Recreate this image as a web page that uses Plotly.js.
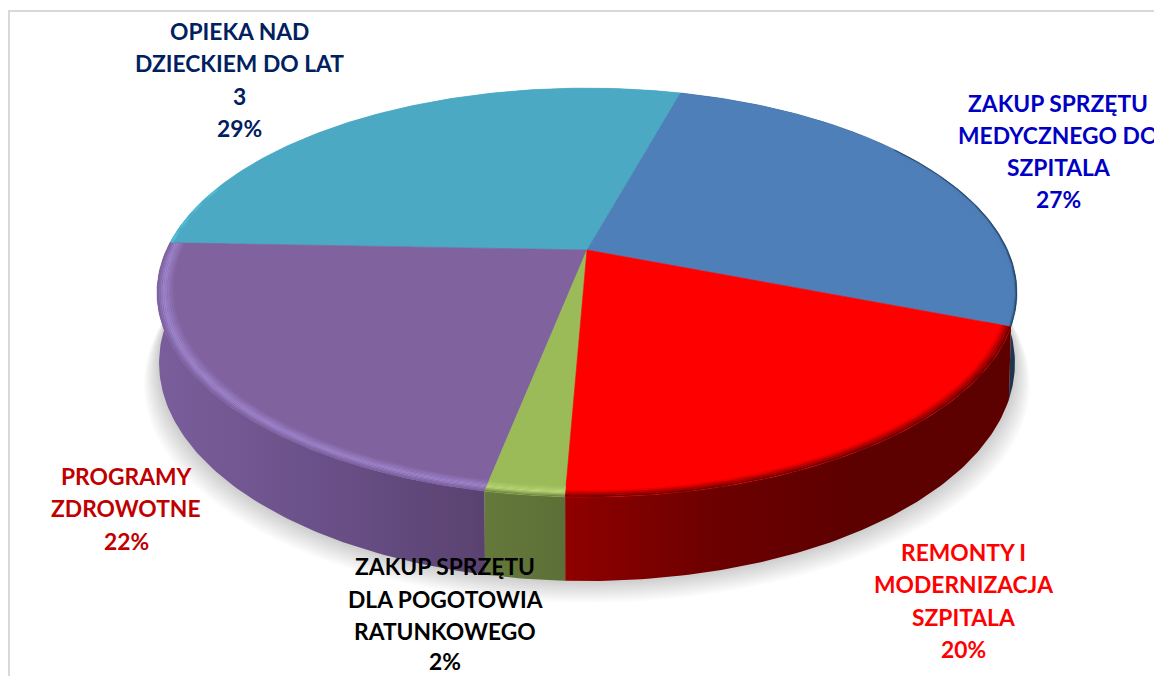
<!DOCTYPE html>
<html>
<head>
<meta charset="utf-8">
<script src="https://cdn.plot.ly/plotly-3.0.1.min.js"></script>
<style>html,body{margin:0;padding:0;background:#fff;overflow:hidden}#chart{width:1154px;height:676px}</style>
</head>
<body>
<div id="chart"></div>
<script>
// ---- data (clockwise from the blue slice) ----
const categories = ["ZAKUP SPRZĘTU MEDYCZNEGO DO SZPITALA", "REMONTY I MODERNIZACJA SZPITALA", "ZAKUP SPRZĘTU DLA POGOTOWIA RATUNKOWEGO", "PROGRAMY ZDROWOTNE", "OPIEKA NAD DZIECKIEM DO LAT 3"];
const values = [26.6, 19.75, 2.45, 22.49, 28.71];
const labelLines = [
  ["ZAKUP SPRZĘTU", "MEDYCZNEGO DO", "SZPITALA", "27%"],
  ["REMONTY I", "MODERNIZACJA", "SZPITALA", "20%"],
  ["ZAKUP SPRZĘTU", "DLA POGOTOWIA", "RATUNKOWEGO", "2%"],
  ["PROGRAMY", "ZDROWOTNE", "22%"],
  ["OPIEKA NAD", "DZIECKIEM DO LAT", "3", "29%"]
];
const labelColors = ["#0000C4", "#FF0000", "#000000", "#C00000", "#002060"];
const labelX = [1058, 963, 445, 126, 239];
const labelY = [[103,135,167,199],[552,584,617,649],[566,599,631,661],[476,508,541],[31,63,96,128]];
const topColors = ["#4E7FB8", "#FF0000", "#9BBB59", "#80629F", "#4BA9C3"];
const wallGradients = [
  ["#1E3550", "#1E3550"],
  ["#900000", "#6C0000", "#5C0000", "#5C0000"],
  ["#65793C", "#5C6F36"],
  ["#7A5E9C", "#6A5088", "#5A4270"],
  ["#4BA9C3", "#4BA9C3"]
];
const rimPeak = ["#4E7FB8", "#FF0000", "#BBD877", "#9F86CE", "#58C6E2"];
const rimEdge = ["#1A2E46", "#600000", "#66793C", "#7A5E9C", "#4FB4CE"];
const rimStart = [0.985, 0.945, 0.965, 0.962, 0.99];
const rimRange = [[55, 113], null, null, null, [271, 290]];

// ---- projection of the tilted pie ----
const startAngle = 15.5, cx = 587, tilt = 0.208;
const topG = {a: 420.6, ay: 250, b: 195.6};
const baseG = {a: 418.6, ay: 317.6, b: 208.6};
function proj(g, deg, r) {
  const t = deg * Math.PI / 180, s = Math.sin(t) * r, c = -Math.cos(t) * r; // c: front positive
  const w = 1 - tilt * c;
  return [cx + g.a * s / w, g.ay + g.b * c / w];
}
function arc(g, a0, a1, r) {
  const n = Math.max(2, Math.ceil(Math.abs(a1 - a0) / 0.75)), pts = [];
  for (let i = 0; i <= n; i++) pts.push(proj(g, a0 + (a1 - a0) * i / n, r));
  return pts;
}
function hex(c){return [1,3,5].map(i=>parseInt(c.substr(i,2),16));}
function mix(a,b,t){const x=hex(a),y=hex(b);return 'rgb('+x.map((v,i)=>Math.round(v+(y[i]-v)*t)).join(',')+')';}

let cum = startAngle;
const spans = values.map(v => { const s = [cum, cum + v * 3.6]; cum = s[1]; return s; });

function poly(pts, style) {
  return Object.assign({type:'scatter', mode:'lines', x:pts.map(p=>p[0]), y:pts.map(p=>p[1]),
    fill:'toself', hoverinfo:'skip', showlegend:false, line:{width:0}}, style);
}
const traces = [];

// soft shadow
const shadowSteps = 12;
const fullCircle = arc(baseG, 0, 360, 1);
for (let i = shadowSteps; i >= 1; i--) {
  const e = i * 1.8;
  const pts = fullCircle.map(p => [cx + (p[0]-cx) * (1 + e*0.7/428), p[1] + e]);
  traces.push(poly(pts, {fillcolor:'rgba(0,0,0,0.016)'}));
}

// walls, back to front
[4, 0, 3, 2, 1].forEach(i => {
  const [a0, a1] = spans[i];
  const pts = arc(topG, a0, a1, 1).concat(arc(baseG, a1, a0, 1));
  const stops = wallGradients[i];
  const scale = stops.map((c, k) => [k / (stops.length - 1), c]);
  traces.push(poly(pts, {name: categories[i], fillcolor: stops[0],
    fillgradient: {type:'horizontal', colorscale: scale}}));
});

// top face
[4, 0, 3, 2, 1].forEach(i => {
  const [a0, a1] = spans[i];
  const pts = [[cx, topG.ay]].concat(arc(topG, a0, a1, 1));
  pts.push([cx, topG.ay]);
  traces.push(poly(pts, {name: categories[i], fillcolor: topColors[i],
    line:{width:0.6, color: topColors[i]}}));
});

// bevel along the outer edge
const bevelSteps = 10;
[4, 0, 3, 2, 1].forEach(i => {
  let [a0, a1] = spans[i];
  if (rimRange[i]) { a0 = Math.max(a0, rimRange[i][0]); a1 = Math.min(a1, rimRange[i][1]); }
  const r0 = rimStart[i];
  for (let s = 0; s < bevelSteps; s++) {
    const u0 = s / bevelSteps, u1 = (s + 1) / bevelSteps, m = (u0 + u1) / 2;
    const ra = r0 + (1 - r0) * u0, rb = r0 + (1 - r0) * u1;
    const col = m < 0.6 ? mix(topColors[i], rimPeak[i], m / 0.6) : mix(rimPeak[i], rimEdge[i], (m - 0.6) / 0.4);
    traces.push(poly(arc(topG, a0, a1, ra).concat(arc(topG, a1, a0, rb)), {fillcolor: col}));
  }
});

// labels
const annotations = [];
labelLines.forEach((lines, i) => lines.forEach((txt, j) => annotations.push({
  x: labelX[i], y: labelY[i][j], xref:'x', yref:'y', text: txt, showarrow:false,
  xanchor:'center', yanchor:'middle',
  font:{family:'Lato, "Open Sans", sans-serif', size:22.8, color:labelColors[i], weight:700}
})));

const layout = {
  width:1154, height:676, margin:{l:0,r:0,t:0,b:0}, showlegend:false,
  paper_bgcolor:'#fff', plot_bgcolor:'#fff',
  xaxis:{range:[0,1154], visible:false, fixedrange:true},
  yaxis:{range:[676,0], visible:false, fixedrange:true},
  annotations,
  shapes:[{type:'rect', xref:'x', yref:'y', x0:9, y0:11, x1:1170, y1:700, line:{color:'#D9D9D9', width:2}, layer:'below'}]
};
Plotly.newPlot('chart', traces, layout, {displayModeBar:false, staticPlot:true});
</script>
</body>
</html>
